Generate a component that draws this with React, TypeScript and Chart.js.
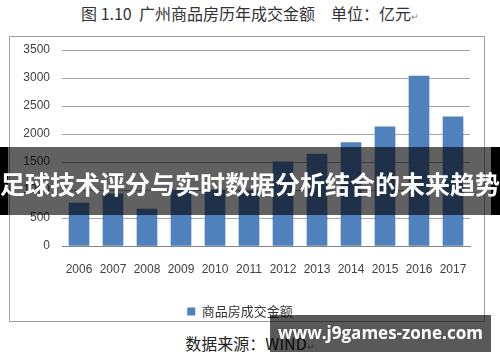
import React, { useEffect, useRef } from "react";
import { Chart, registerables } from "chart.js";

Chart.register(...registerables);

const years = ["2006", "2007", "2008", "2009", "2010", "2011", "2012", "2013", "2014", "2015", "2016", "2017"];
const amounts = [765, 930, 660, 1000, 1000, 980, 1505, 1640, 1845, 2130, 3035, 2305];
const yMax = 3500;
const yStep = 500;
const seriesName = "商品房成交金额";
const titleText = "图 1.10  广州商品房历年成交金额　单位：亿元";
const sourceText = "数据来源：WIND";
const bannerText = "足球技术评分与实时数据分析结合的未来趋势";
const watermarkText = "www.j9games-zone.com";

const CJK = '"Noto Sans CJK SC", "Liberation Sans", sans-serif';
const NUM = '"Liberation Sans", "Noto Sans", sans-serif';

export default function App() {
  const ref = useRef<HTMLCanvasElement | null>(null);

  useEffect(() => {
    if (!ref.current) return;
    const chart = new Chart(ref.current, {
      type: "bar",
      data: {
        labels: years,
        datasets: [
          {
            label: seriesName,
            data: amounts,
            backgroundColor: "#4f81bd",
            barThickness: 20,
          },
        ],
      },
      options: {
        responsive: false,
        animation: false,
        layout: { padding: { left: 0, right: 14, top: 13, bottom: -7 } },
        plugins: {
          legend: {
            position: "bottom",
            labels: {
              boxWidth: 8,
              boxHeight: 8,
              color: "#333333",
              font: { size: 13, family: CJK },
              padding: 4,
            },
          },
          tooltip: { enabled: false },
        },
        scales: {
          x: {
            grid: { display: false, drawTicks: false },
            border: { display: true, color: "#868686" },
            ticks: { padding: 16, color: "#404040", font: { size: 12, family: NUM } },
            afterFit: (s: any) => {
              s.height = 55;
            },
          },
          y: {
            min: 0,
            max: yMax,
            ticks: {
              stepSize: yStep,
              padding: 12,
              color: "#404040",
              font: { size: 12, family: NUM },
              callback: (v: any) => String(v),
            },
            grid: { color: "#a6a6a6", drawTicks: false },
            border: { display: false },
            afterFit: (s: any) => {
              s.width = 52;
              s.paddingTop = 0;
              s.paddingBottom = 0;
            },
          },
        },
      },
    });
    return () => chart.destroy();
  }, []);

  return (
    <div style={{ position: "absolute", left: 0, top: 0, width: 500, height: 362, background: "#fff", overflow: "hidden" }}>
      <div
        style={{
          position: "absolute",
          left: 0,
          top: 3,
          width: 500,
          textAlign: "center",
          fontFamily: CJK,
          fontSize: 16,
          lineHeight: "20px",
          color: "#333",
          whiteSpace: "pre",
        }}
      >
        {titleText}
        <span style={{ fontSize: 9, color: "#888" }}>↵</span>
      </div>
      <div
        style={{
          position: "absolute",
          left: 9,
          top: 36,
          width: 474,
          height: 284,
          border: "1px solid #a0a0a0",
        }}
      >
        <canvas ref={ref} width={474} height={284} style={{ display: "block", width: 474, height: 284 }} />
      </div>
      <div
        style={{
          position: "absolute",
          left: 0,
          top: 332,
          width: 500,
          textAlign: "center",
          fontFamily: CJK,
          fontSize: 16,
          lineHeight: "22px",
          color: "#222",
        }}
      >
        {sourceText}
        <span style={{ fontSize: 9, color: "#888" }}>↵</span>
      </div>
      <div
        style={{
          position: "absolute",
          left: 0,
          top: 147,
          width: 500,
          height: 68,
          background: "rgba(0,0,0,0.62)",
        }}
      >
        <div style={{ position: "absolute", left: 0, top: 0, width: 8, height: 68, background: "#000" }} />
        <div style={{ position: "absolute", left: 491, top: 0, width: 9, height: 68, background: "#000" }} />
        <div
          style={{
            position: "absolute",
            left: 0,
            top: 21,
            width: 500,
            textAlign: "center",
            fontFamily: CJK,
            fontWeight: 700,
            fontSize: 25,
            lineHeight: "30px",
            color: "#fff",
            whiteSpace: "nowrap",
          }}
        >
          {bannerText}
        </div>
      </div>
      <div
        style={{
          position: "absolute",
          left: 270,
          top: 315,
          width: 221,
          height: 37,
          background: "rgba(0,0,0,0.65)",
        }}
      >
        <div
          style={{
            position: "absolute",
            left: 0,
            top: 7,
            width: 221,
            textAlign: "center",
            fontFamily: '"Open Sans", sans-serif',
            fontWeight: 700,
            fontSize: 17,
            lineHeight: "22px",
            color: "#fff",
            whiteSpace: "nowrap",
          }}
        >
          {watermarkText}
        </div>
      </div>
    </div>
  );
}
